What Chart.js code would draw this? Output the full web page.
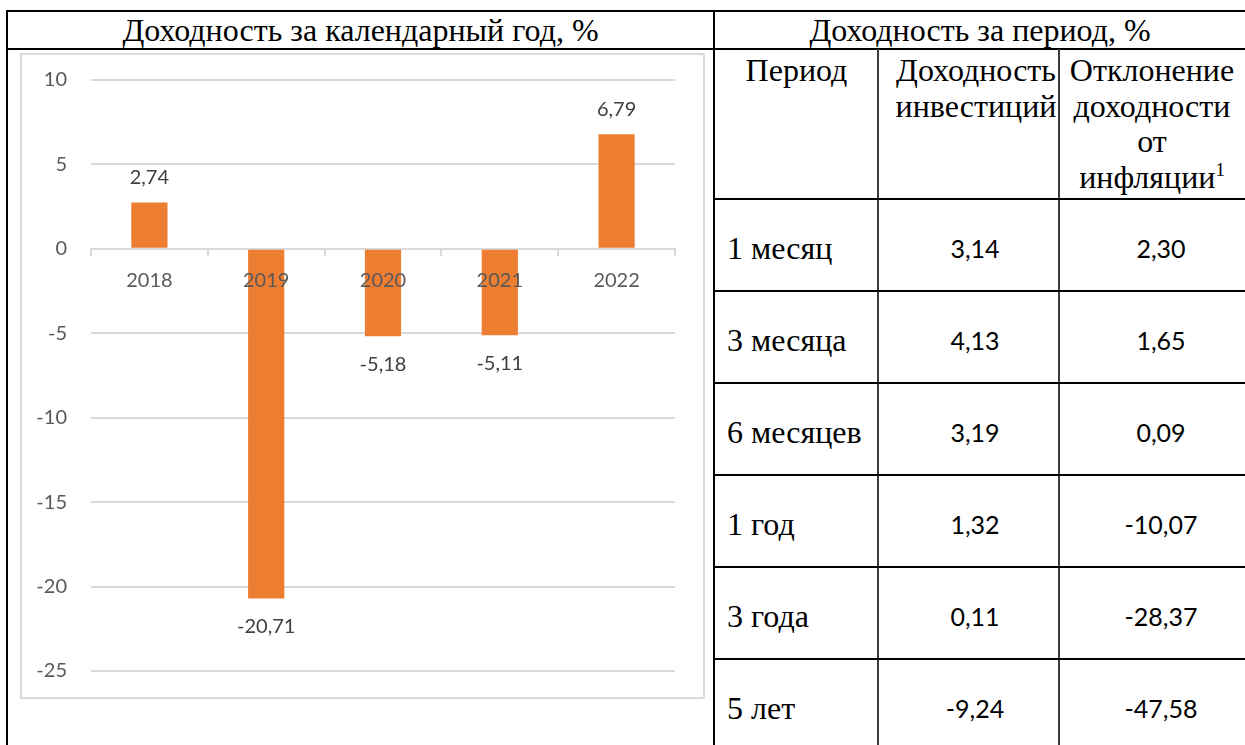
<!DOCTYPE html>
<html>
<head>
<meta charset="utf-8">
<script src="https://cdn.jsdelivr.net/npm/chart.js@4"></script>
<style>
  html, body { margin: 0; padding: 0; background: #fff; }
  body { width: 1245px; height: 745px; position: relative; overflow: hidden; }
  .ln { position: absolute; background: #000; }
  .g { background: #3c3c3c; }
  .serif { position: absolute; font-family: "Liberation Serif", "Times New Roman", serif; color: #000; }
  .num { position: absolute; font-family: Lato, sans-serif; color: #000; text-align: center; }
  #chartBox { position: absolute; left: 20px; top: 53px; width: 685px; height: 646px; box-sizing: border-box; border: 2px solid #d9d9d9; }
  #chartBox canvas { position: absolute; left: 0; top: 0; }
</style>
</head>
<body>
<div id="root"></div>
<div id="chartBox"><canvas id="c" width="681" height="642"></canvas></div>
<script>
// ---- data ----
const years = ['2018', '2019', '2020', '2021', '2022'];
const annualReturns = [2.74, -20.71, -5.18, -5.11, 6.79];
const yTickMin = -25;
const yTickMax = 10;
const yTickStep = 5;

const leftTitle = 'Доходность за календарный год, %';
const rightTitle = 'Доходность за период, %';
const colHeaders = ['Период', 'Доходность<br>инвестиций', 'Отклонение<br>доходности<br>от<br>инфляции<sup style="font-size:19px;vertical-align:12px;line-height:0">1</sup>'];
const periods = ['1 месяц', '3 месяца', '6 месяцев', '1 год', '3 года', '5 лет'];
const periodReturns = [3.14, 4.13, 3.19, 1.32, 0.11, -9.24];
const inflationDeviation = [2.30, 1.65, 0.09, -10.07, -28.37, -47.58];

const fmt = v => v.toFixed(2).replace('.', ',');

// ---- table / frame ----
const root = document.getElementById('root');
function el(cls, css, html) {
  const d = document.createElement('div');
  d.className = cls;
  Object.assign(d.style, css);
  if (html !== undefined) d.innerHTML = html;
  root.appendChild(d);
  return d;
}
// outer lines
el('ln', {left: '6px', top: '10px', width: '1239px', height: '2px'});
el('ln', {left: '6px', top: '48px', width: '1239px', height: '2px'});
el('ln', {left: '6px', top: '10px', width: '2px', height: '735px'});
el('ln', {left: '713px', top: '10px', width: '2px', height: '735px'});
el('ln g', {left: '877px', top: '49px', width: '2px', height: '696px'});
el('ln g', {left: '1058px', top: '49px', width: '2px', height: '696px'});
const rowY = [199, 291, 383, 475, 567, 659, 745];
for (let i = 0; i < 6; i++) {
  el('ln', {left: '714px', top: (rowY[i] - 1) + 'px', width: '531px', height: '2px'});
}
// titles
el('serif', {left: '8px', top: '12px', width: '705px', height: '36px', lineHeight: '36px', textAlign: 'center', fontSize: '32px'}, leftTitle);
el('serif', {left: '715px', top: '12px', width: '530px', height: '36px', lineHeight: '36px', textAlign: 'center', fontSize: '32px'}, rightTitle);
// column headers (text boxes: [left, width])
const headBox = [[715, 163], [888, 176], [1059, 186]];
for (let c = 0; c < 3; c++) {
  el('serif', {left: headBox[c][0] + 'px', top: '53px', width: headBox[c][1] + 'px', lineHeight: '35.5px', textAlign: 'center', fontSize: '32px', whiteSpace: 'nowrap'}, colHeaders[c]);
}
// data rows
const valBox = [[888, 174], [1059, 204]];
for (let r = 0; r < periods.length; r++) {
  const top = rowY[r] + 29;
  el('serif', {left: '727px', top: top + 'px', lineHeight: '40px', fontSize: '32px', whiteSpace: 'nowrap'}, periods[r]);
  el('num', {left: valBox[0][0] + 'px', top: top + 'px', width: valBox[0][1] + 'px', lineHeight: '40px', fontSize: '25px'}, fmt(periodReturns[r]));
  el('num', {left: valBox[1][0] + 'px', top: top + 'px', width: valBox[1][1] + 'px', lineHeight: '40px', fontSize: '25px'}, fmt(inflationDeviation[r]));
}

// ---- chart ----
const labelPlugin = {
  id: 'barLabels',
  afterDatasetsDraw(chart) {
    const ctx = chart.ctx;
    const meta = chart.getDatasetMeta(0);
    const vals = chart.data.datasets[0].data;
    ctx.save();
    ctx.font = '20px Lato, sans-serif';
    ctx.fillStyle = '#404040';
    ctx.textAlign = 'center';
    ctx.textBaseline = 'middle';
    meta.data.forEach((bar, i) => {
      const v = vals[i];
      const y = v >= 0 ? bar.y - 25 : bar.y + 28;
      ctx.fillText(fmt(v), bar.x, y);
    });
    ctx.restore();
  }
};

new Chart(document.getElementById('c'), {
  type: 'bar',
  data: {
    labels: years,
    datasets: [{
      data: annualReturns,
      backgroundColor: '#ED7D31',
      borderWidth: 0,
      barPercentage: 0.31,
      categoryPercentage: 1.0
    }]
  },
  options: {
    responsive: false,
    animation: false,
    events: [],
    layout: { padding: { left: 0, right: 28, top: 25, bottom: 26 } },
    plugins: { legend: { display: false }, tooltip: { enabled: false } },
    scales: {
      x: {
        type: 'category',
        position: { y: 0 },
        offset: true,
        afterFit(scale) { scale.height = 0; },
        grid: { drawOnChartArea: false, drawTicks: true, tickLength: 6, color: '#d9d9d9', lineWidth: 2, offset: true },
        border: { display: true, color: '#d9d9d9', width: 2 },
        ticks: { z: 1, color: '#595959', font: { family: 'Lato', size: 20 }, padding: 14, maxRotation: 0 }
      },
      y: {
        min: yTickMin,
        max: yTickMax,
        afterFit(scale) { scale.width = 69; scale.paddingTop = 0; scale.paddingBottom = 0; },
        grid: { color: '#d9d9d9', lineWidth: 2, drawTicks: false },
        border: { display: false },
        ticks: {
          stepSize: yTickStep,
          color: '#595959',
          font: { family: 'Lato', size: 20 },
          padding: 24,
          callback: v => String(v)
        }
      }
    }
  },
  plugins: [labelPlugin]
});
</script>
</body>
</html>
